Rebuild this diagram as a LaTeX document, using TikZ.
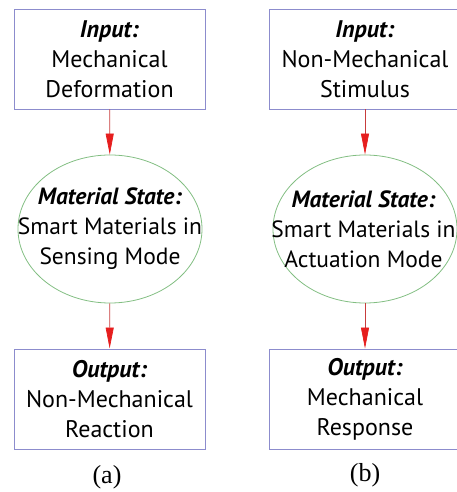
\documentclass[tikz,border=0pt]{standalone}
\usepackage{fontspec}
\setmainfont{Liberation Serif}
\newfontfamily\boxfont{PT Sans}
\usetikzlibrary{arrows.meta,shapes.geometric,positioning}
\definecolor{boxline}{RGB}{140,140,205}
\definecolor{stateline}{RGB}{130,190,130}
\definecolor{arrowline}{RGB}{200,60,60}
\definecolor{arrowtip}{RGB}{230,30,30}
\tikzset{
  iobox/.style={draw=boxline,line width=0.9pt,fill=white,
    minimum width=191pt,minimum height=100pt,inner sep=0pt,
    align=center,font=\boxfont\fontsize{24}{30}\selectfont},
  stateshape/.style={ellipse,draw=stateline,line width=0.8pt,
    minimum width=184pt,minimum height=148pt,inner sep=0pt},
  statetext/.style={align=center,inner sep=0pt,
    font=\boxfont\fontsize{23.5}{30}\selectfont},
  flow/.style={draw=arrowline,line width=0.7pt,
    -{Triangle[length=21pt,width=8pt,color=arrowtip]}},
  caption/.style={font=\fontsize{26}{30}\selectfont}
}
\begin{document}
\begin{tikzpicture}[x=1pt,y=1pt]
\useasboundingbox (0,0) rectangle (457,492);
% (a) sensing column
\node[iobox] (inA) at (109.5,433) {\textbf{\textit{Input:}}\\Mechanical\\Deformation};
\node[stateshape] (stA) at (110,263) {};
\node[statetext] (stAtext) at (stA.center) {\textbf{\textit{Material State:}}\\Smart Materials in\\Sensing Mode};
\node[iobox] (outA) at (109.5,93) {\textbf{\textit{Output:}}\\Non-Mechanical\\Reaction};
\node[caption] (capA) at (107,15) {(a)};
\draw[flow] (inA) -- (stA);
\draw[flow] (stA) -- (outA);
% (b) actuation column
\node[iobox] (inB) at (365,433) {\textbf{\textit{Input:}}\\Non-Mechanical\\Stimulus};
\node[stateshape] (stB) at (365,263) {};
\node[statetext] (stBtext) at (363.5,263) {\textbf{\textit{Material State:}}\\Smart Materials in\\Actuation Mode};
\node[iobox] (outB) at (365,93) {\textbf{\textit{Output:}}\\Mechanical\\Response};
\node[caption] (capB) at (365,17) {(b)};
\draw[flow] (inB) -- (stB);
\draw[flow] (stB) -- (outB);
\end{tikzpicture}
\end{document}
